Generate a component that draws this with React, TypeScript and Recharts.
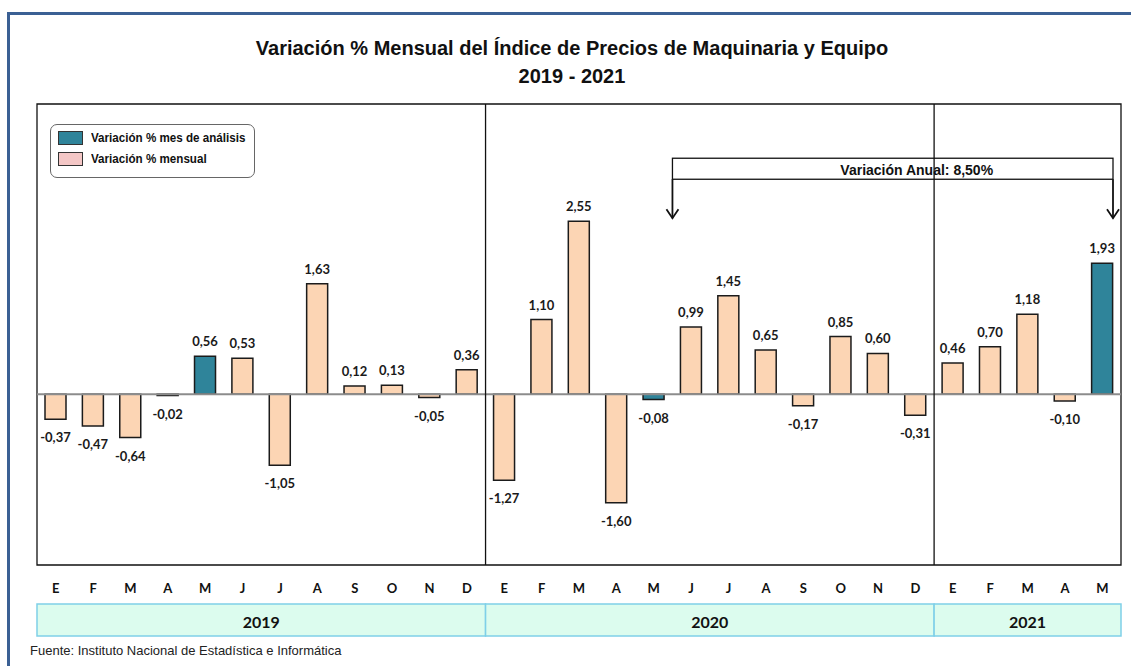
import React from 'react'
import {
  BarChart,
  Bar,
  Cell,
  XAxis,
  YAxis,
  ReferenceLine,
  ReferenceArea,
  LabelList,
} from 'recharts'

const months = ['E', 'F', 'M', 'A', 'M', 'J', 'J', 'A', 'S', 'O', 'N', 'D']
const years = ['2019', '2020', '2021']
const values2019 = [-0.37, -0.47, -0.64, -0.02, 0.56, 0.53, -1.05, 1.63, 0.12, 0.13, -0.05, 0.36]
const values2020 = [-1.27, 1.1, 2.55, -1.6, -0.08, 0.99, 1.45, 0.65, -0.17, 0.85, 0.6, -0.31]
const values2021 = [0.46, 0.7, 1.18, -0.1, 1.93]
// month analysed each year (Mayo)
const highlightMonth = 4
const annualNote = 'Variación Anual: 8,50%'

const TEAL = '#2f849a'
const PEACH = '#fcd5b4'
const NARROW = '"Liberation Sans Narrow", "Arial Narrow", "Liberation Sans", sans-serif'
const LABEL_FONT = 'Lato, "Open Sans", sans-serif'

const rows = [values2019, values2020, values2021].flatMap((vals, y) =>
  vals.map((v, m) => ({
    key: `${years[y]}-${m}`,
    month: months[m],
    year: years[y],
    value: v,
    hl: m === highlightMonth,
  }))
)

const firstOf = (y: string) => rows.find((r) => r.year === y)!.key
const lastOf = (y: string) => [...rows].reverse().find((r) => r.year === y)!.key

const fmt = (v: number) => v.toFixed(2).replace('.', ',')

const ValueLabel = (props: any) => {
  const { x, y, width, height, value } = props
  const top = Math.min(y, y + height)
  const bottom = Math.max(y, y + height)
  const cy = value >= 0 ? top - 15 : bottom + 18
  return (
    <text
      x={x + width / 2}
      y={cy}
      textAnchor="middle"
      dominantBaseline="central"
      fontFamily={LABEL_FONT}
      fontWeight={700}
      fontSize={13}
      fill="#1a1a1a"
    >
      {fmt(value)}
    </text>
  )
}

const YearBand = (label: string) => (props: any) => {
  const { x, y, height, width } = props
  const top = y + height + 39
  return (
    <g>
      <rect x={x} y={top} width={width} height={32} fill="#dcfcee" stroke="#7fd0e8" strokeWidth={1.5} />
      <text
        x={x + width / 2}
        y={top + 17}
        textAnchor="middle"
        dominantBaseline="central"
        fontFamily={LABEL_FONT}
        fontWeight={700}
        fontSize={16}
        fill="#111"
      >
        {label}
      </text>
    </g>
  )
}

const Bracket = (props: any) => {
  const { x, y, width, height } = props
  const w = width - 8
  const xr = x + w
  const bottom = y + height
  const arrow = (ax: number) => (
    <g stroke="#111" strokeWidth={1.8} fill="none">
      <line x1={ax} y1={bottom} x2={ax} y2={bottom + 39} />
      <polyline points={`${ax - 6},${bottom + 30} ${ax},${bottom + 39} ${ax + 6},${bottom + 30}`} />
    </g>
  )
  return (
    <g>
      <rect x={x} y={y} width={w} height={height} fill="none" stroke="#111" strokeWidth={1.3} />
      {arrow(x)}
      {arrow(xr)}
      <text
        x={x + w / 2 + 24}
        y={y + height / 2 + 1}
        textAnchor="middle"
        dominantBaseline="central"
        fontFamily={NARROW}
        fontWeight={700}
        fontSize={14}
        fill="#111"
      >
        {annualNote}
      </text>
    </g>
  )
}

export default function App() {
  return (
    <div style={{ position: 'absolute', left: 0, top: 0, width: 1131, height: 666, background: '#fff' }}>
      <div
        style={{
          position: 'absolute',
          left: 7,
          top: 12,
          width: 1124,
          height: 654,
          borderTop: '3px solid #3b6094',
          borderLeft: '3px solid #3b6094',
          boxSizing: 'border-box',
        }}
      />
      <div
        style={{
          position: 'absolute',
          left: 72,
          top: 34,
          width: 1000,
          textAlign: 'center',
          fontFamily: NARROW,
          fontWeight: 700,
          fontSize: 20,
          lineHeight: '28px',
          color: '#111',
        }}
      >
        <div>Variación % Mensual del Índice de Precios de Maquinaria y Equipo</div>
        <div>2019 - 2021</div>
      </div>

      <BarChart
        width={1131}
        height={666}
        data={rows}
        margin={{ top: 104, right: 10, bottom: 71, left: 37 }}
        barSize={21}
        style={{ position: 'absolute', left: 0, top: 0 }}
      >
        <YAxis type="number" domain={[-2.52, 4.28]} allowDataOverflow hide />
        <XAxis
          dataKey="key"
          interval={0}
          height={30}
          axisLine={false}
          tickLine={false}
          tickSize={0}
          tickMargin={19}
          tickFormatter={(_v: any, i: number) => rows[i]?.month ?? ''}
          tick={{ fontFamily: LABEL_FONT, fontWeight: 700, fontSize: 13, fill: '#111' }}
        />
        <ReferenceArea y1={-2.52} y2={4.28} fill="none" stroke="#111" strokeWidth={1.3} fillOpacity={0} ifOverflow="visible" />
        {years.map((yr) => (
          <ReferenceArea
            key={yr}
            x1={firstOf(yr)}
            x2={lastOf(yr)}
            ifOverflow="visible"
            shape={YearBand(yr)}
          />
        ))}
        <ReferenceArea
          x1={rows[17].key}
          x2={rows[28].key}
          y1={3.17}
          y2={3.48}
          ifOverflow="visible"
          shape={Bracket}
        />
        <ReferenceLine y={0} stroke="#8c8c8c" strokeWidth={2} />
        {years.slice(1).map((yr) => (
          <ReferenceLine key={yr} x={firstOf(yr)} position="start" stroke="#111" strokeWidth={1.3} />
        ))}
        <Bar dataKey="value" stroke="#1b1b1b" strokeWidth={1.5} isAnimationActive={false}>
          {rows.map((r, i) => (
            <Cell key={`cell-${i}`} fill={r.hl ? TEAL : PEACH} />
          ))}
          <LabelList dataKey="value" content={ValueLabel} />
        </Bar>
      </BarChart>

      <div
        style={{
          position: 'absolute',
          left: 50,
          top: 124,
          width: 205,
          height: 54,
          border: '1px solid #666',
          borderRadius: 7,
          boxSizing: 'border-box',
          fontFamily: NARROW,
          fontWeight: 700,
          fontSize: 12.5,
          color: '#111',
        }}
      >
        {[
          { name: 'Variación % mes de análisis', color: TEAL },
          { name: 'Variación % mensual', color: '#f4c7c6' },
        ].map((item, i) => (
          <div
            key={i}
            style={{ position: 'absolute', left: 7, top: 6 + i * 21, display: 'flex', alignItems: 'center', gap: 8, whiteSpace: 'nowrap' }}
          >
            <div style={{ width: 25, height: 14, background: item.color, border: '1.5px solid #333', boxSizing: 'border-box', flex: 'none' }} />
            <span style={{ display: 'inline-block', transform: 'scaleX(0.93)', transformOrigin: 'left center' }}>{item.name}</span>
          </div>
        ))}
      </div>

      <div
        style={{
          position: 'absolute',
          left: 30,
          top: 643,
          fontFamily: NARROW,
          fontSize: 13,
          color: '#222',
        }}
      >
        Fuente: Instituto Nacional de Estadística e Informática
      </div>
    </div>
  )
}
